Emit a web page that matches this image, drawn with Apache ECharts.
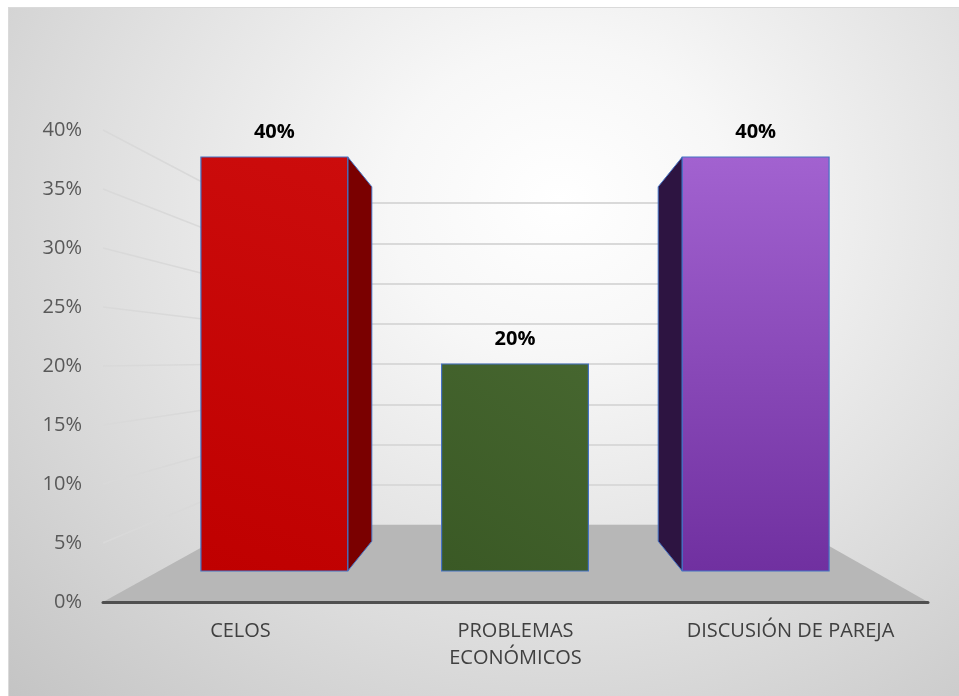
<!DOCTYPE html>
<html>
<head>
<meta charset="utf-8">
<script src="https://cdn.jsdelivr.net/npm/echarts@6/dist/echarts.min.js"></script>
<style>
  html, body { margin:0; padding:0; background:#fff; }
  #bg { position:absolute; left:8px; top:7px; right:0; bottom:0;
        border-left:1px solid #dadada; border-top:1px solid #dadada;
        background: radial-gradient(ellipse farthest-corner at 58% 28%, #ffffff 0%, #f7f7f7 22%, #e2e2e2 55%, #c4c4c4 100%); }
  #chart { position:absolute; left:0; top:0; width:959px; height:696px; }
</style>
</head>
<body>
<div id="bg"></div>
<div id="chart"></div>
<script>
// ---- data ----
const categories = ['CELOS', 'PROBLEMAS\nECONÓMICOS', 'DISCUSIÓN DE PAREJA'];
const values = [0.40, 0.20, 0.40];
const valueLabels = ['40%', '20%', '40%'];
const yMax = 0.4;
const yStep = 0.05;

// ---- styles (not data) ----
const frontColors = [
  ['#bf0000', '#cc0c0c'],
  ['#3a5925', '#46662f'],
  ['#7030a0', '#a262d0']
];
const sideColors = ['#7a0000', '#2f4a1c', '#2d1441'];
const FONT = '"Open Sans", "Noto Sans", sans-serif';

const G0 = { left: 103, right: 31, top: 130, bottom: 94 };   // axis frame (front floor edge)
const G1 = { left: 154, right: 83, top: 157, bottom: 125 };  // bar front faces
const G2 = { left: 242, right: 167, top: 203, bottom: 171 }; // back wall

const chart = echarts.init(document.getElementById('chart'), null, { renderer: 'canvas' });

function renderBar(params, api) {
  const i = api.value(0), v = api.value(1);
  const top = api.coord([i, v]);
  const bot = api.coord([i, 0]);
  const bw = api.size([1, 0])[0] * 0.61;
  const vp = api.coord([(categories.length - 1) / 2, yMax / 2]);
  const t = 0.144;
  const x0 = top[0] - bw / 2, x1 = top[0] + bw / 2;
  const yT = top[1], yB = bot[1];
  const children = [];
  const toward = (x, y) => [x + t * (vp[0] - x), y + t * (vp[1] - y)];
  if (top[0] < vp[0] - 1) {
    const a = toward(x1, yT), b = toward(x1, yB);
    children.push({ type: 'polygon', shape: { points: [[x1, yT], a, b, [x1, yB]] },
      style: { fill: sideColors[i], stroke: '#4472c4', lineWidth: 1 } });
  } else if (top[0] > vp[0] + 1) {
    const a = toward(x0, yT), b = toward(x0, yB);
    children.push({ type: 'polygon', shape: { points: [[x0, yT], a, b, [x0, yB]] },
      style: { fill: sideColors[i], stroke: '#4472c4', lineWidth: 1 } });
  }
  const fc = frontColors[i];
  const grad = i === 2
    ? new echarts.graphic.LinearGradient(0, 1, 0, 0, [{ offset: 0, color: fc[0] }, { offset: 1, color: fc[1] }])
    : new echarts.graphic.LinearGradient(0, 1, 1, 0, [{ offset: 0, color: fc[0] }, { offset: 1, color: fc[1] }]);
  children.push({ type: 'rect', shape: { x: x0, y: yT, width: bw, height: yB - yT },
    style: { fill: grad, stroke: '#4472c4', lineWidth: 1.2 } });
  children.push({ type: 'text', style: { text: valueLabels[i], x: top[0], y: yT - 25,
    align: 'center', verticalAlign: 'middle', fontSize: 20, fontWeight: 'bold',
    fontFamily: FONT, fill: '#000' } });
  return { type: 'group', children };
}

const pctFmt = v => Math.round(v * 100) + '%';

const option = {
  backgroundColor: 'transparent',
  animation: false,
  grid: [
    Object.assign({ containLabel: false }, G0),
    Object.assign({ containLabel: false }, G1),
    Object.assign({ containLabel: false }, G2)
  ],
  xAxis: [
    { type: 'category', gridIndex: 0, data: categories, z: 5,
      axisLine: { lineStyle: { color: '#505050', width: 3 } },
      axisTick: { show: false },
      axisLabel: { color: '#404040', fontSize: 20, fontFamily: FONT, margin: 16, lineHeight: 27, interval: 0 } },
    { type: 'category', gridIndex: 1, data: categories, show: false },
    { type: 'value', gridIndex: 2, show: false }
  ],
  yAxis: [
    { type: 'value', gridIndex: 0, min: 0, max: yMax, interval: yStep,
      axisLine: { show: false }, axisTick: { show: false }, splitLine: { show: false },
      axisLabel: { formatter: pctFmt, color: '#595959', fontSize: 20, fontFamily: FONT, margin: 21 } },
    { type: 'value', gridIndex: 1, min: 0, max: yMax, show: false },
    { type: 'value', gridIndex: 2, min: 0, max: yMax, interval: yStep,
      axisLine: { show: false }, axisTick: { show: false }, axisLabel: { show: false },
      splitLine: { show: true, lineStyle: { color: '#d9d9d9', width: 2 } } }
  ],
  series: [
    { type: 'custom', xAxisIndex: 1, yAxisIndex: 1, z: 3,
      renderItem: renderBar,
      data: values.map((v, i) => [i, v]) }
  ]
};
chart.setOption(option);

// floor and left-wall lines, placed through the axes' scales
const W = chart.getWidth();
const y0 = v => chart.convertToPixel({ yAxisIndex: 0 }, v);
const y2 = v => chart.convertToPixel({ yAxisIndex: 2 }, v);
const elements = [];
elements.push({ type: 'polygon', z: 1,
  shape: { points: [[G0.left, y0(0)], [W - G0.right, y0(0)], [W - G2.right, y2(0)], [G2.left, y2(0)]] },
  style: { fill: '#b7b7b7' } });
for (let k = 1; k * yStep <= yMax + 1e-9; k++) {
  const v = k * yStep;
  elements.push({ type: 'line', z: 1,
    shape: { x1: G0.left, y1: y0(v), x2: G2.left, y2: y2(v) },
    style: { stroke: '#d9d9d9', lineWidth: 1.5 } });
}
chart.setOption({ graphic: { elements } });
</script>
</body>
</html>
